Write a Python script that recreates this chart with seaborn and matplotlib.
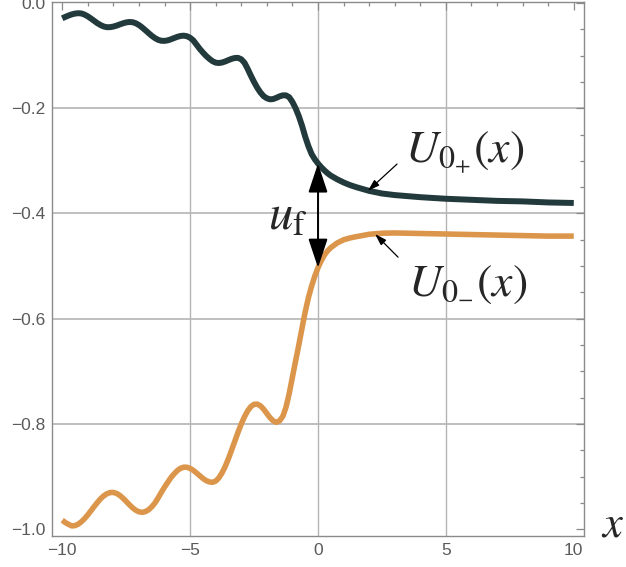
import matplotlib
matplotlib.use("Agg")
import matplotlib.pyplot as plt
import seaborn as sns

# Sample positions shared by both branches
x_values = [
    -10.000, -9.875, -9.750, -9.625, -9.500, -9.375, -9.250, -9.125, -9.000, -8.875,
    -8.750, -8.625, -8.500, -8.375, -8.250, -8.125, -8.000, -7.875, -7.750, -7.625,
    -7.500, -7.375, -7.250, -7.125, -7.000, -6.875, -6.750, -6.625, -6.500, -6.375,
    -6.250, -6.125, -6.000, -5.875, -5.750, -5.625, -5.500, -5.375, -5.250, -5.125,
    -5.000, -4.875, -4.750, -4.625, -4.500, -4.375, -4.250, -4.125, -4.000, -3.875,
    -3.750, -3.625, -3.500, -3.375, -3.250, -3.125, -3.000, -2.875, -2.750, -2.625,
    -2.500, -2.375, -2.250, -2.125, -2.000, -1.875, -1.750, -1.625, -1.500, -1.375,
    -1.250, -1.125, -1.000, -0.875, -0.750, -0.625, -0.500, -0.375, -0.250, -0.125,
    0.000, 0.125, 0.250, 0.375, 0.500, 0.750, 1.000, 1.250, 1.500, 2.000,
    2.500, 3.000, 4.000, 5.000, 6.000, 7.000, 8.000, 9.000, 10.000,
]

# Upper branch U_{0+}(x)
u_plus = [
    -0.0290, -0.0262, -0.0237, -0.0215, -0.0200, -0.0193, -0.0198, -0.0220, -0.0253, -0.0295,
    -0.0339, -0.0383, -0.0419, -0.0446, -0.0459, -0.0458, -0.0447, -0.0429, -0.0406, -0.0385,
    -0.0368, -0.0360, -0.0364, -0.0384, -0.0418, -0.0464, -0.0516, -0.0570, -0.0622, -0.0666,
    -0.0699, -0.0717, -0.0719, -0.0709, -0.0689, -0.0665, -0.0642, -0.0626, -0.0620, -0.0630,
    -0.0660, -0.0710, -0.0790, -0.0870, -0.0940, -0.1005, -0.1059, -0.1105, -0.1133, -0.1140,
    -0.1130, -0.1110, -0.1084, -0.1060, -0.1044, -0.1042, -0.1069, -0.1135, -0.1250, -0.1380,
    -0.1500, -0.1610, -0.1700, -0.1770, -0.1810, -0.1830, -0.1824, -0.1801, -0.1773, -0.1754,
    -0.1755, -0.1790, -0.1880, -0.2000, -0.2150, -0.2330, -0.2540, -0.2720, -0.2870, -0.2970,
    -0.3050, -0.3120, -0.3180, -0.3235, -0.3280, -0.3350, -0.3410, -0.3460, -0.3500, -0.3570,
    -0.3620, -0.3650, -0.3690, -0.3720, -0.3740, -0.3760, -0.3770, -0.3790, -0.3800,
]

# Lower branch U_{0-}(x)
u_minus = [
    -0.9830, -0.9875, -0.9910, -0.9938, -0.9932, -0.9905, -0.9859, -0.9799, -0.9728, -0.9649,
    -0.9569, -0.9492, -0.9422, -0.9366, -0.9326, -0.9304, -0.9302, -0.9321, -0.9358, -0.9411,
    -0.9472, -0.9535, -0.9594, -0.9640, -0.9670, -0.9680, -0.9667, -0.9632, -0.9576, -0.9502,
    -0.9405, -0.9300, -0.9200, -0.9110, -0.9020, -0.8949, -0.8886, -0.8843, -0.8822, -0.8823,
    -0.8845, -0.8882, -0.8931, -0.8984, -0.9035, -0.9076, -0.9102, -0.9110, -0.9086, -0.9025,
    -0.8928, -0.8805, -0.8657, -0.8493, -0.8325, -0.8157, -0.8000, -0.7864, -0.7751, -0.7671,
    -0.7627, -0.7623, -0.7656, -0.7720, -0.7801, -0.7882, -0.7942, -0.7969, -0.7940, -0.7855,
    -0.7680, -0.7420, -0.7110, -0.6800, -0.6500, -0.6180, -0.5870, -0.5600, -0.5380, -0.5190,
    -0.5030, -0.4900, -0.4790, -0.4710, -0.4650, -0.4560, -0.4500, -0.4465, -0.4440, -0.4395,
    -0.4375, -0.4370, -0.4380, -0.4390, -0.4400, -0.4410, -0.4420, -0.4430, -0.4430,
]

x_ticks = [-10, -5, 0, 5, 10]
x_tick_labels = ["\u221210", "\u22125", "0", "5", "10"]
y_ticks = [-1.0, -0.8, -0.6, -0.4, -0.2, 0.0]
y_tick_labels = ["\u22121.0", "\u22120.8", "\u22120.6", "\u22120.4", "\u22120.2", "0.0"]
grid_x = [-5, 0, 5]
grid_y = [-0.8, -0.6, -0.4, -0.2]

DARK = "#233a3d"
ORANGE = "#dc964b"
FRAME = "#8a8a8a"
GRID = "#b4b4b4"

sns.set_style("white")
plt.rcParams["font.family"] = ["Liberation Sans", "DejaVu Sans"]
plt.rcParams["mathtext.fontset"] = "stix"

fig = plt.figure(figsize=(6.26, 5.67), dpi=100)
ax = fig.add_axes([52 / 626, 1 - 536 / 567, 532 / 626, 534 / 567])

for gx in grid_x:
    ax.axvline(gx, color=GRID, lw=1.0, zorder=0)
for gy in grid_y:
    ax.axhline(gy, color=GRID, lw=1.2, zorder=0)

line_kw = dict(solid_joinstyle="round", solid_capstyle="butt", zorder=3)
sns.lineplot(x=x_values, y=u_plus, color=DARK, lw=4.3, ax=ax, **line_kw)
sns.lineplot(x=x_values, y=u_minus, color=ORANGE, lw=4.0, ax=ax, **line_kw)

ax.set_xlim(-10.4, 10.4)
ax.set_ylim(-1.013, 0.002)
ax.set_xticks(x_ticks)
ax.set_xticklabels(x_tick_labels)
ax.set_yticks(y_ticks)
ax.set_yticklabels(y_tick_labels)
ax.set_xticks(range(-10, 11), minor=True)
ax.set_yticks([-1.0 + 0.05 * i for i in range(21)], minor=True)
ax.set_xlabel("")
ax.set_ylabel("")

for s in ax.spines.values():
    s.set_color(FRAME)
    s.set_linewidth(1.0)
ax.tick_params(which="both", direction="in", top=True, right=True,
               color=FRAME, width=0.9)
ax.tick_params(which="major", length=5.5, labelsize=12.5, labelcolor="#5a5a5a", pad=5)
ax.tick_params(which="minor", length=3)

# Gap between the two branches at x = 0
i0 = x_values.index(0.0)
ax.annotate("", xy=(0.0, u_minus[i0]), xytext=(0.0, u_plus[i0]),
            arrowprops=dict(arrowstyle="<|-|>,head_length=1.8,head_width=0.6",
                            mutation_scale=10, color="black", lw=1.4,
                            shrinkA=0, shrinkB=0), zorder=5)
ax.text(-1.95, -0.430, r"$u_{\mathrm{f}}$", fontsize=35, ha="left", va="baseline")

# Branch labels with pointers
ax.text(3.40, -0.302, r"$U_{0_{+}}(x)$", fontsize=33, ha="left", va="baseline")
ax.annotate("", xy=(1.95, -0.357), xytext=(3.09, -0.306),
            arrowprops=dict(arrowstyle="-|>,head_length=0.7,head_width=0.22",
                            mutation_scale=10, color="black", lw=0.9,
                            shrinkA=0, shrinkB=0))
ax.text(3.52, -0.553, r"$U_{0_{-}}(x)$", fontsize=33, ha="left", va="baseline")
ax.annotate("", xy=(2.23, -0.439), xytext=(3.13, -0.483),
            arrowprops=dict(arrowstyle="-|>,head_length=0.7,head_width=0.22",
                            mutation_scale=10, color="black", lw=0.9,
                            shrinkA=0, shrinkB=0))

ax.text(11.52, -0.992, r"$x$", fontsize=32, ha="center", va="center", clip_on=False)

fig.savefig("out.png", dpi=100)
